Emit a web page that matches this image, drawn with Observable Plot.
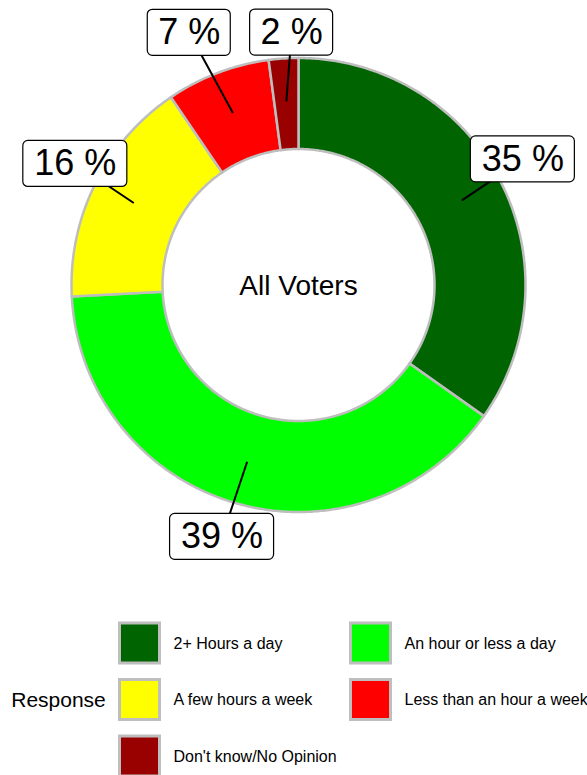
<!DOCTYPE html>
<html>
<head>
<meta charset="utf-8">
<script src="https://cdn.jsdelivr.net/npm/d3@7"></script>
<script src="https://cdn.jsdelivr.net/npm/@observablehq/plot@0.6"></script>
<style>
  html, body { margin: 0; padding: 0; background: #fff; }
  #chart svg { display: block; }
</style>
</head>
<body>
<div id="chart"></div>
<script>
// ---- data ----
const categories = ["2+ Hours a day", "An hour or less a day", "A few hours a week", "Less than an hour a week", "Don't know/No Opinion"];
const shares = [34.8, 39.4, 16.3, 7.4, 2.1];
const colors = ["#006400", "#00ff00", "#ffff00", "#ff0000", "#990000"];
const centerTitle = "All Voters";
const legendTitle = "Response";

// ---- layout ----
const W = 587, H = 775;
const cx = 298, cy = 284.5, R = 227, r = 136;
const labelRadius = 256, leaderRadius = 184;
const labelNudge = [[-3, -8], [-5, 6], [6, -7], [-18, -13], [10, 3]];
const font = "Liberation Sans, Arial, Helvetica, sans-serif";

const pie = d3.pie().sort(null).value(d => d)(shares);
const toXY = (a, rad) => [cx + rad * Math.sin(a), cy - rad * Math.cos(a)];

// slice outlines
const slicePts = [];
pie.forEach((p, i) => {
  const n = Math.max(2, Math.ceil((p.endAngle - p.startAngle) / (Math.PI / 360)));
  for (let k = 0; k <= n; k++) {
    const a = p.startAngle + (p.endAngle - p.startAngle) * k / n;
    const [x, y] = toXY(a, R);
    slicePts.push({cat: categories[i], x, y});
  }
  for (let k = n; k >= 0; k--) {
    const a = p.startAngle + (p.endAngle - p.startAngle) * k / n;
    const [x, y] = toXY(a, r);
    slicePts.push({cat: categories[i], x, y});
  }
});

// labels
const labels = pie.map((p, i) => {
  const mid = (p.startAngle + p.endAngle) / 2;
  const [lx, ly] = toXY(mid, labelRadius);
  const [sx, sy] = toXY(mid, leaderRadius);
  const text = Math.round(shares[i]) + " %";
  const bw = 21 * text.length + 20, bh = 46;
  const x = lx + labelNudge[i][0], y = ly + labelNudge[i][1];
  return {cat: categories[i], text, x, y, sx, sy, x1: x - bw / 2, x2: x + bw / 2, y1: y - bh / 2, y2: y + bh / 2};
});

// legend
const legend = categories.map((c, i) => {
  const col = i % 2, row = Math.floor(i / 2);
  const x0 = col ? 349 : 118;
  const yc = 643 + row * 56.5;
  return {cat: c, x1: x0 + 1.5, x2: x0 + 41.5, y1: yc - 20, y2: yc + 20, tx: x0 + 55, ty: yc};
});

const chart = Plot.plot({
  width: W,
  height: H,
  margin: 0,
  x: {domain: [0, W], range: [0, W], axis: null},
  y: {domain: [0, H], range: [0, H], axis: null},
  color: {domain: categories, range: colors},
  style: {fontFamily: font, background: "white"},
  marks: [
    Plot.line(slicePts, {x: "x", y: "y", z: "cat", fill: "cat", stroke: "#bebebe", strokeWidth: 2.5, curve: "linear-closed"}),
    Plot.link(labels, {x1: "sx", y1: "sy", x2: "x", y2: "y", stroke: "black", strokeWidth: 2}),
    Plot.rect(labels, {x1: "x1", x2: "x2", y1: "y1", y2: "y2", fill: "white", stroke: "black", strokeWidth: 1.2, rx: 5}),
    Plot.text(labels, {x: "x", y: "y", text: "text", fontSize: 36, fill: "black", fontFamily: font}),
    Plot.text([centerTitle], {x: () => cx, y: () => cy + 1, text: d => d, fontSize: 28, fill: "black", fontFamily: font}),
    Plot.rect(legend, {x1: "x1", x2: "x2", y1: "y1", y2: "y2", fill: "cat", stroke: "#bebebe", strokeWidth: 3}),
    Plot.text(legend, {x: "tx", y: "ty", text: "cat", textAnchor: "start", fontSize: 16, fill: "black", fontFamily: font}),
    Plot.text([legendTitle], {x: () => 58, y: () => 700, text: d => d, fontSize: 21, fill: "black", fontFamily: font})
  ]
});
document.getElementById("chart").appendChild(chart);
</script>
</body>
</html>
